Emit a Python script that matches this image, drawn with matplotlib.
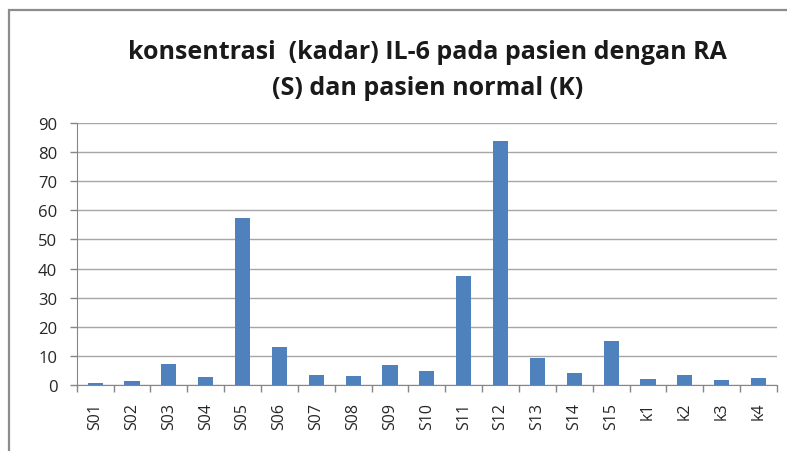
import matplotlib
matplotlib.use("Agg")
import matplotlib.pyplot as plt
from matplotlib.patches import Rectangle
from matplotlib.ticker import FixedLocator, MultipleLocator

categories = ["S01", "S02", "S03", "S04", "S05", "S06", "S07", "S08", "S09", "S10",
              "S11", "S12", "S13", "S14", "S15", "k1", "k2", "k3", "k4"]
values = [0.7, 1.4, 7.2, 2.8, 57.3, 13.2, 3.6, 3.2, 6.8, 4.7,
          37.4, 83.7, 9.3, 4.1, 15.0, 1.9, 3.3, 1.6, 2.5]
title_lines = ["konsentrasi  (kadar) IL-6 pada pasien dengan RA",
               "(S) dan pasien normal (K)"]

plt.rcParams['font.family'] = ['Open Sans', 'DejaVu Sans']

W, H = 787, 452
fig = plt.figure(figsize=(W / 100, H / 100), dpi=100)

# chart frame
fig.patches.append(Rectangle((8.5 / W, -0.1), 1.2, 1 - 11 / H + 0.1, transform=fig.transFigure,
                             fill=False, edgecolor="#8c8c8c", linewidth=1.6))

ax = fig.add_axes([76.7 / W, 1 - 386 / H, (777 - 76.7) / W, (386 - 124) / H])
x = list(range(len(categories)))
ax.bar(x, values, width=0.41, color="#4F81BD", zorder=3)

ax.set_xlim(-0.5, len(categories) - 0.5)
ax.set_ylim(0, 90)
ax.yaxis.set_major_locator(MultipleLocator(10))
ax.grid(axis="y", color="#a6a6a6", linewidth=1.0, zorder=0)

ax.set_xticks(x)
ax.set_xticklabels(categories, rotation=90, fontsize=11.5, color="#262626")
ax.xaxis.set_minor_locator(FixedLocator([i - 0.5 for i in range(len(categories) + 1)]))
ax.tick_params(axis="x", which="major", length=0, pad=12)
ax.tick_params(axis="x", which="minor", length=5, color="#868686", width=1)
ax.tick_params(axis="y", length=5, color="#868686", width=1, labelsize=12, pad=9,
               labelcolor="#262626")

for s in ["top", "right"]:
    ax.spines[s].set_visible(False)
ax.spines["left"].set_color("#868686")
ax.spines["bottom"].set_color("#868686")

fig.text(427.5 / W, 1 - 59 / H, title_lines[0], ha="center", va="baseline", fontsize=18,
         fontweight="bold", color="#1a1a1a")
fig.text(427.5 / W, 1 - 95 / H, title_lines[1], ha="center", va="baseline", fontsize=18,
         fontweight="bold", color="#1a1a1a")

fig.savefig("out.png", dpi=100)
